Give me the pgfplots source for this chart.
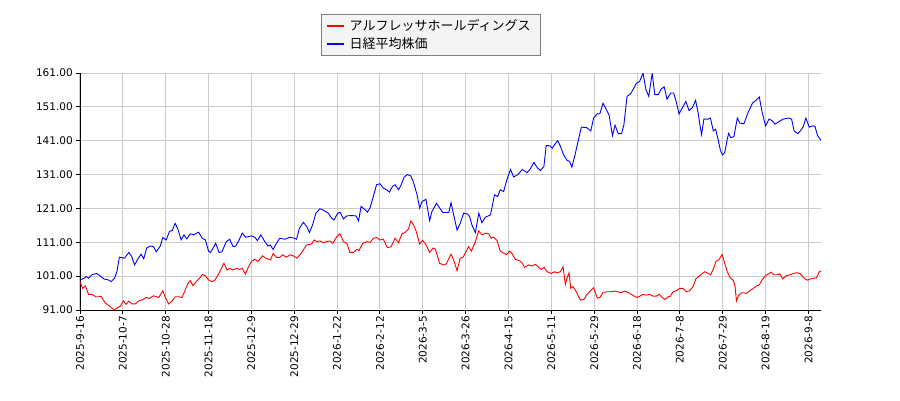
\documentclass[border=0pt]{standalone}
\usepackage{fontspec}
\setmainfont{DejaVu Sans}
\newfontfamily\cjk{Noto Sans CJK JP}
\usepackage{pgfplots}
\pgfplotsset{compat=1.18}
\definecolor{gridgray}{HTML}{CCCCCC}
\definecolor{legfill}{HTML}{F4F4F4}
\begin{document}
\begin{tikzpicture}
\path[use as bounding box, fill=white] (-80pt,-90pt) rectangle (820pt,310pt);
\begin{axis}[
  at={(0pt,0pt)}, anchor=south west,
  scale only axis, width=741pt, height=237pt,
  xmin=0, xmax=259.4, ymin=91, ymax=161,
  xtick={0,15,...,255},
  xticklabels={2025-9-16,2025-10-7,2025-10-28,2025-11-18,2025-12-9,2025-12-29,2026-1-22,2026-2-12,2026-3-5,2026-3-26,2026-4-15,2026-5-11,2026-5-29,2026-6-18,2026-7-8,2026-7-29,2026-8-19,2026-9-8},
  ytick={91,101,...,161},
  yticklabels={91.00,101.00,111.00,121.00,131.00,141.00,151.00,161.00},
  ticklabel style={font=\fontsize{10.5}{12}\selectfont},
  xticklabel style={rotate=90, anchor=east, inner sep=2pt},
  yticklabel style={inner sep=3pt},
  axis x line*=bottom, axis y line*=left,
  axis line style={-, black, line width=0.9pt},
  tick align=outside, major tick length=4pt,
  tick style={black, line width=0.9pt},
  grid=major, major grid style={draw=gridgray, line width=1pt},
  legend image code/.code={\draw[#1, line width=1.6pt] (0pt,0pt) -- (17pt,0pt);},
  legend style={at={(0.3248,1.249)}, anchor=north west, draw=gray, fill=legfill,
    line width=0.9pt,
    font=\cjk\fontsize{13}{15}\selectfont, inner xsep=5pt, inner ysep=4pt,
    row sep=4pt, nodes={inner xsep=5pt, inner ysep=1pt}},
  legend cell align=left,
]
\addplot[red, line width=0.9pt] coordinates {
(0,99.4) (0.9,97.4) (1.9,98.1) (3,95.6) (4.2,95.6) (5.6,94.9) (6.5,94.9) (7.3,95.1) (8.9,93) (10.3,92.2) (12,91) (13.2,91.7) (14.2,92.2) (15.2,93.7) (16.1,92.7) (17.1,93.6) (18.2,92.8) (19.4,92.8) (20.6,93.7) (22,94.1) (23.2,94.7) (24.3,94.4) (25.7,95.2) (27.6,94.7) (29,96.7) (29.8,94.9) (31,92.8) (32.2,93.6) (33.3,94.9) (34.5,94.9) (35.7,94.7) (36.6,96.4) (37.8,98.9) (38.6,99.7) (39.5,98.2) (40.7,99.4) (41.9,100.4) (42.8,101.5) (43.9,101.1) (45,99.9) (46,99.4) (47.1,99.7) (48.3,101.3) (49.5,103.3) (50.4,104.8) (51.5,102.8) (52.4,103.3) (53.6,102.8) (54.7,103.3) (55.9,103) (56.8,103.3) (57.9,101.6) (59,103.8) (60,105.3) (61.2,106) (62.3,105.3) (63.9,107) (65,106.3) (66.7,105.8) (67.6,107.7) (68.8,106.5) (69.9,106.5) (70.9,107.3) (72.3,106.6) (73.5,107.3) (74.6,107) (76,106.3) (77.6,108) (79.3,110.2) (81.1,110.5) (82,111.7) (82.8,111.2) (84,111.4) (85.2,110.9) (86.3,111.2) (87.5,111.4) (88.5,110.7) (89.9,112.7) (91,113.5) (92.2,111.2) (93.4,110.7) (94.5,108) (95.7,108) (96.9,108.9) (97.7,108.6) (99,110.7) (100.4,111.2) (101.6,111) (102.7,112.2) (103.9,112.4) (105,111.7) (106.2,111.9) (107.6,109.4) (108.9,109.7) (110.3,112.2) (111.5,110.9) (112.7,113.5) (113.8,113.9) (115,114.9) (115.8,117.3) (116.8,116.1) (117.7,114.2) (118.9,110.5) (119.9,111.6) (121.1,110.3) (122.4,108) (123.6,109.3) (124.4,109) (125.9,104.8) (127.3,104.3) (128.2,104.6) (129.9,107.5) (130.8,105.8) (132,102.6) (133.1,106.3) (134.1,106.6) (135.2,108.3) (136,109.7) (137,108.4) (138.2,110.7) (139.6,114.4) (140.7,113.2) (141.9,113.7) (143.1,113.5) (144,112.2) (144.8,112.5) (146,111.5) (147.1,108.4) (148.5,107.7) (149.3,107.4) (150.4,108.4) (151.2,107.7) (152.4,106) (153.9,105.5) (154.7,105) (155.6,103.6) (157.1,104.3) (158.3,104) (159.4,104.5) (160.6,103.6) (161.5,103) (162.5,103.6) (163.5,102.3) (165,101.8) (166.2,102.3) (167,102.0) (168.2,102.3) (169.1,103.8) (169.9,98.6) (170.5,100.4) (171.2,102.0) (171.8,97.4) (172.6,97.9) (173.4,96.9) (174.3,95.4) (175.2,93.9) (176.4,94.1) (177.3,95.4) (178.4,96.4) (179.8,97.6) (180.5,95.9) (181.1,94.5) (182,94.7) (183.1,96.2) (184.6,96.4) (186,96.4) (187.5,96.6) (189.3,96.1) (190.7,96.6) (192.5,95.9) (194.8,94.7) (196,95.1) (197.1,95.6) (198.3,95.4) (199.5,95.6) (200.6,95.1) (201.8,95.1) (202.7,95.6) (203.6,94.9) (204.7,94.1) (205.9,94.9) (206.7,95.1) (207.6,96.4) (208.8,96.7) (209.9,97.4) (211.1,97.4) (212.3,96.4) (213.4,96.7) (214.6,97.9) (215.6,100.2) (216.7,101) (217.9,101.8) (218.7,102.3) (219.9,101.8) (220.7,101.4) (221.7,103) (222.6,105.3) (223.6,105.8) (224.8,107.4) (225.5,105.3) (226.6,102.3) (227.5,100.6) (228.7,99.7) (229.3,98.1) (229.8,93.7) (230.6,95.4) (231.6,96.1) (232.4,96.1) (233.3,95.9) (234.5,96.7) (235.7,97.4) (236.8,98.1) (237.8,98.4) (238.6,99.7) (239.8,101) (240.9,101.6) (241.9,102.2) (242.9,101.4) (244.1,101.4) (245,101.7) (246,100.2) (247.1,101.1) (248.5,101.4) (249.7,101.8) (251.1,102) (252,101.8) (253.6,100.3) (254.7,99.8) (256.1,100.3) (257.8,100.5) (258.8,102.3) (259.4,102.5)
};
\addlegendentry{アルフレッサホールディングス}
\addplot[blue, line width=0.9pt] coordinates {
(0,99.9) (1.5,100.4) (2.1,100.9) (3,100.4) (4.2,101.4) (5.8,101.8) (6.7,101.3) (8.5,100.1) (9.6,100) (10.9,99.4) (12.1,100.4) (12.9,102.3) (13.8,106.6) (15.6,106.3) (17.1,108) (18.1,106.8) (19.1,104.3) (20.2,106) (21.4,107.5) (22.3,106.1) (23.4,109.4) (24.6,109.9) (25.7,109.7) (26.7,108.2) (28.1,109.9) (29,112.4) (30.2,111.7) (31.3,114.2) (32.3,114.5) (33.3,116.6) (34.3,114.8) (35.4,111.7) (36.4,113.2) (37.4,112) (38.6,113.5) (39.8,113.2) (41.5,114) (42.8,112.2) (43.9,111.7) (45,108.4) (45.7,108) (47.5,110.7) (48.7,108) (49.7,108.2) (51.2,111.2) (52.4,111.9) (53.6,109.7) (54.5,109.9) (55.4,111.2) (56.8,113.7) (58,112.5) (60,112.9) (61.2,112.5) (62.1,111.5) (63.3,113.2) (64.7,111.2) (65.8,109.9) (66.6,110.2) (67.6,108.9) (68.8,110.7) (69.9,112.2) (71.7,111.9) (73.5,112.5) (75,112.2) (75.8,111.9) (76.8,115.1) (78.2,116.9) (79.4,115.6) (80.3,113.9) (81.4,116.1) (82.6,119.6) (84,120.9) (85.4,120.4) (86.9,119.6) (88.1,118.1) (88.9,117.6) (90.1,119.4) (91,119.9) (92.2,117.9) (93.4,118.8) (95.1,118.9) (96.6,118.8) (97.5,117.3) (98.4,121.6) (99.4,120.9) (100.6,119.9) (101.5,121.1) (102.7,124.6) (103.8,128) (105,128.3) (106.2,127) (107.4,126.5) (108.3,125.8) (109.4,127.5) (110.3,128) (111.5,126.5) (112.3,127.7) (113.5,130.3) (114.6,131) (115.8,130.6) (116.8,128.6) (118,125) (118.9,121.1) (119.7,123) (121.1,123.7) (122.4,117.4) (123.2,120.1) (124.8,122.5) (126,121) (127,119.8) (128.5,119.8) (129.1,119.8) (129.9,122.7) (130.8,119.1) (132,114.6) (133.1,116.6) (134.3,119.6) (135.5,119.4) (136.4,118.6) (137.2,116.1) (138.4,113.9) (139.6,119.6) (140.7,116.8) (141.9,118.4) (143.7,119.1) (145.1,125) (146.2,124.5) (147.1,126.5) (148.3,126) (149.3,129.1) (150.7,132.5) (151.8,130.3) (153.3,131) (154.8,132.5) (156.5,131.6) (157.5,132.5) (158.9,134.6) (160.1,133) (161.2,132.2) (162.4,133.4) (163.2,139.6) (164.5,139.5) (165.3,138.8) (166.3,140) (167.2,141) (168.2,139.3) (169.3,136.8) (170.5,135.2) (171.4,134.9) (172.2,133.2) (173.2,136.5) (174,139.5) (175.5,145) (177.3,144.9) (178.8,143.9) (179.8,147.7) (181,148.9) (182,149) (183.1,152.1) (184,150.6) (185.2,148.6) (186.4,142.5) (187.3,145.6) (188.4,143.1) (189.6,143.1) (190.4,145.7) (191.5,154.1) (192.7,154.8) (193.6,156.1) (194.8,158) (195.9,158.5) (197.1,161) (198.1,156.1) (199.1,154.1) (200.3,161) (201.2,154.6) (202.4,154.6) (203.5,156.3) (204.5,156.9) (205.5,153.3) (206.8,155.1) (207.8,155.1) (208.8,152.3) (209.7,148.9) (210.9,150.8) (212.1,152.6) (213.2,149.9) (214.4,150.8) (215.5,152.9) (216.4,149.2) (217,145.7) (217.6,142.8) (218.4,147.4) (219.9,147.4) (220.7,147.7) (221.7,143.9) (222.5,144.4) (223.4,141.3) (224.2,138.1) (224.9,136.8) (225.7,137.5) (226.6,141.5) (227.1,143.2) (227.8,141.9) (228.9,142.2) (230.1,147.7) (231,146.2) (232.4,146) (233.9,149.4) (235.4,152.1) (236.6,152.9) (237.8,153.9) (238.8,149.4) (240,145.4) (241.2,147.4) (242.3,146.9) (243.3,145.9) (244.8,146.7) (246.2,147.4) (248,147.7) (249.1,147.4) (250,143.9) (251.2,143.1) (252.2,143.9) (253.2,145.2) (254.1,147.7) (255.3,145) (256.5,145.4) (257.3,145.2) (258.2,142.5) (259.4,141.1)
};
\addlegendentry{日経平均株価}
\end{axis}
\end{tikzpicture}
\end{document}
